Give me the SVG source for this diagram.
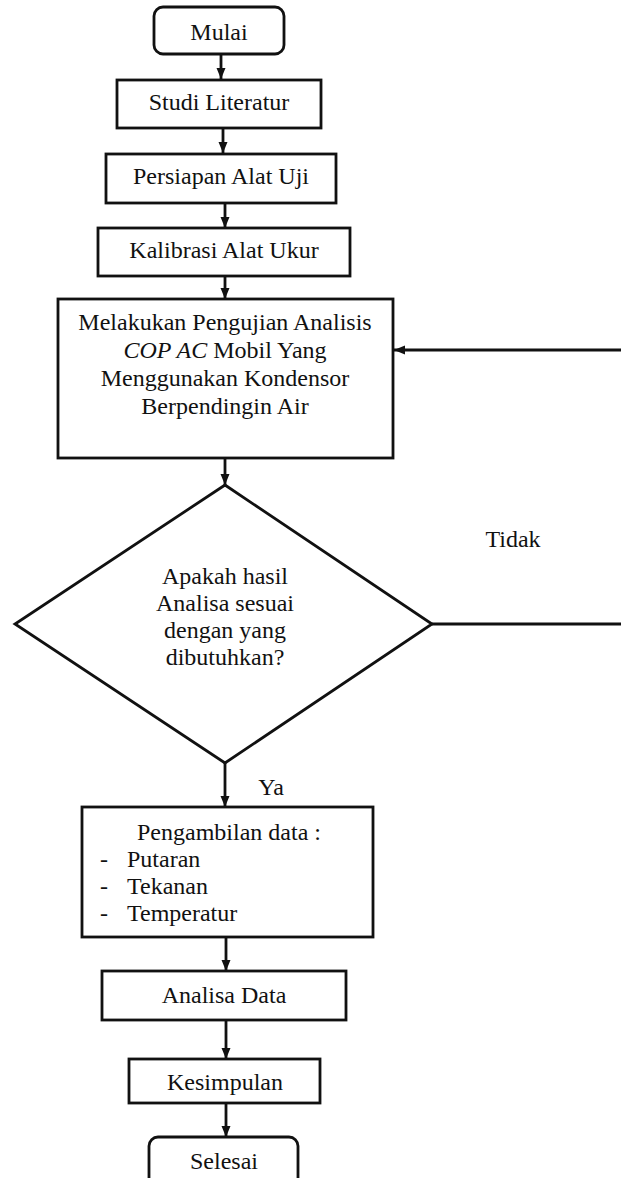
<svg xmlns="http://www.w3.org/2000/svg" width="621" height="1178" viewBox="0 0 621 1178">
<style>
.box{fill:#fff;stroke:#111;stroke-width:2.8}
.t{font-family:"Liberation Serif","Times New Roman",serif;font-size:24px;fill:#111;text-anchor:middle}
.l{font-family:"Liberation Serif","Times New Roman",serif;font-size:24px;fill:#111}
.c{fill:none;stroke:#111;stroke-width:2.8}
</style>
<defs>
<marker id="ah" markerUnits="userSpaceOnUse" markerWidth="11" markerHeight="11" viewBox="0 0 11 11" refX="11" refY="5.5" orient="auto">
<path d="M0,1 L11,5.5 L0,10 Z" fill="#111"/>
</marker>
</defs>
<rect width="621" height="1178" fill="#fff"/>
<g id="connectors">
<line class="c" x1="221" y1="54" x2="221" y2="79" marker-end="url(#ah)"/>
<line class="c" x1="223" y1="128" x2="223" y2="153" marker-end="url(#ah)"/>
<line class="c" x1="225" y1="203" x2="225" y2="228" marker-end="url(#ah)"/>
<line class="c" x1="225" y1="276" x2="225" y2="299" marker-end="url(#ah)"/>
<line class="c" x1="225" y1="458" x2="225" y2="485" marker-end="url(#ah)"/>
<line class="c" x1="225" y1="763" x2="225" y2="807" marker-end="url(#ah)"/>
<path class="c" d="M432,624 H624 V350 H394" marker-end="url(#ah)"/>
<line class="c" x1="226" y1="937" x2="226" y2="971" marker-end="url(#ah)"/>
<line class="c" x1="226" y1="1020" x2="226" y2="1059" marker-end="url(#ah)"/>
<line class="c" x1="226" y1="1103" x2="226" y2="1137" marker-end="url(#ah)"/>
<text class="t" x="513" y="547">Tidak</text>
<text class="t" x="271" y="795">Ya</text>
</g>
<g id="mulai">
<rect class="box" x="154" y="7" width="130" height="47" rx="9"/>
<text class="t" x="219" y="40">Mulai</text>
</g>
<g id="studi">
<rect class="box" x="117" y="80" width="204" height="48"/>
<text class="t" x="219" y="110">Studi Literatur</text>
</g>
<g id="persiapan">
<rect class="box" x="106" y="154" width="230" height="49"/>
<text class="t" x="221" y="184">Persiapan Alat Uji</text>
</g>
<g id="kalibrasi">
<rect class="box" x="98" y="228" width="252" height="48"/>
<text class="t" x="224" y="258">Kalibrasi Alat Ukur</text>
</g>
<g id="pengujian">
<rect class="box" x="58" y="299" width="335" height="159"/>
<text class="t" x="225" y="330">Melakukan Pengujian Analisis</text>
<text class="t" x="225" y="358"><tspan font-style="italic">COP AC</tspan> Mobil Yang</text>
<text class="t" x="225" y="386">Menggunakan Kondensor</text>
<text class="t" x="225" y="414">Berpendingin Air</text>
</g>
<g id="keputusan">
<polygon class="box" points="225,485 432,624 225,763 15,624"/>
<text class="t" x="225" y="584">Apakah hasil</text>
<text class="t" x="225" y="611">Analisa sesuai</text>
<text class="t" x="225" y="638">dengan yang</text>
<text class="t" x="225" y="665">dibutuhkan?</text>
</g>
<g id="pengambilan">
<rect class="box" x="82" y="807" width="291" height="130"/>
<text class="l" x="137" y="840">Pengambilan data :</text>
<text class="l" x="100" y="867">-</text>
<text class="l" x="127" y="867">Putaran</text>
<text class="l" x="100" y="894">-</text>
<text class="l" x="127" y="894">Tekanan</text>
<text class="l" x="100" y="921">-</text>
<text class="l" x="127" y="921">Temperatur</text>
</g>
<g id="analisa">
<rect class="box" x="102" y="971" width="244" height="49"/>
<text class="t" x="224" y="1003">Analisa Data</text>
</g>
<g id="kesimpulan">
<rect class="box" x="129" y="1059" width="191" height="44"/>
<text class="t" x="225" y="1090">Kesimpulan</text>
</g>
<g id="selesai">
<rect class="box" x="149" y="1137" width="149" height="60" rx="9"/>
<text class="t" x="224" y="1169">Selesai</text>
</g>
</svg>
